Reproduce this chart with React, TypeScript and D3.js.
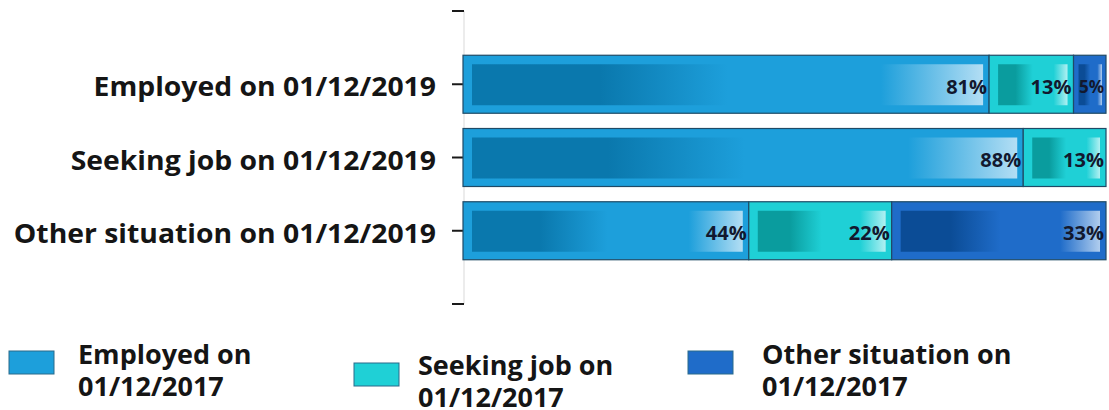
import React from "react";
import * as d3 from "d3";

const categories = [
  "Employed on 01/12/2019",
  "Seeking job on 01/12/2019",
  "Other situation on 01/12/2019",
];
const seriesKeys = ["employed", "seeking", "other"];
const seriesNames = [
  ["Employed on", "01/12/2017"],
  ["Seeking job on", "01/12/2017"],
  ["Other situation on", "01/12/2017"],
];
const employed = [81, 88, 44];
const seeking = [13, 13, 22];
const other = [5, 0, 33];

const baseColors = ["#1d9fdb", "#1fd0d6", "#1f6cc9"];
const darkColors = ["#0a78ad", "#0a9c9e", "#0b4c96"];
const lightColors = ["#b3def4", "#b0f0f2", "#b0cdee"];
const strokeColor = "#1f4a66";

const W = 1109;
const H = 410;
const FONT = "'Open Sans', 'DejaVu Sans', sans-serif";

export default function App() {
  const rows = categories.map((c, i) => ({
    cat: c,
    employed: employed[i],
    seeking: seeking[i],
    other: other[i],
  }));
  const stack = d3
    .stack<any>()
    .keys(seriesKeys)
    .offset(d3.stackOffsetExpand);
  const series = stack(rows);

  const x = d3.scaleLinear().domain([0, 1]).range([463, 1106]);
  const yPos = d3
    .scalePoint<string>()
    .domain(["__top", ...categories, "__bottom"])
    .range([11, 304]);
  const barH = 58;
  const axisX = x(0) + 1;

  const legendItems = [
    { sx: 9, sy: 351, tx: 78, ty: 364 },
    { sx: 354, sy: 363, tx: 418, ty: 375 },
    { sx: 688, sy: 351, tx: 762, ty: 364 },
  ];

  return (
    <svg
      width={W}
      height={H}
      style={{ position: "absolute", left: 0, top: 0, background: "#fff" }}
    >
      <defs>
        {baseColors.map((c, i) => (
          <linearGradient key={i} id={`g${i}`} x1="0" x2="1" y1="0" y2="0">
            <stop offset="0" stopColor={darkColors[i]} />
            <stop offset="0.25" stopColor={darkColors[i]} stopOpacity={1} />
            <stop offset="0.5" stopColor={c} />
            <stop offset="0.8" stopColor={c} />
            <stop offset="1" stopColor={lightColors[i]} />
          </linearGradient>
        ))}
      </defs>

      {/* axis line */}
      <line
        x1={axisX}
        x2={axisX}
        y1={yPos("__top")}
        y2={yPos("__bottom")}
        stroke="#d9d9d9"
        strokeWidth={1}
      />
      {yPos.domain().map((d) => (
        <line
          key={d}
          x1={452}
          x2={axisX}
          y1={yPos(d)}
          y2={yPos(d)}
          stroke="#1a1a1a"
          strokeWidth={2}
        />
      ))}

      {/* category labels */}
      {categories.map((c) => (
        <text
          key={c}
          transform={`translate(436,${(yPos(c) as number) + 2}) scale(1.09,1)`}
          textAnchor="end"
          dominantBaseline="central"
          fontFamily={FONT}
          fontWeight={700}
          fontSize={26}
          fill="#151515"
        >
          {c}
        </text>
      ))}

      {/* bars */}
      {series.map((s, si) =>
        s.map((d, ri) => {
          const x0 = x(d[0]);
          const x1 = x(d[1]);
          const w = x1 - x0;
          if (w <= 0.5) return null;
          const cy = yPos(categories[ri]) as number;
          const y0 = cy - barH / 2;
          const val = [employed, seeking, other][si][ri];
          return (
            <g key={`${si}-${ri}`}>
              <rect
                x={x0}
                y={y0}
                width={w}
                height={barH}
                fill={baseColors[si]}
                stroke={strokeColor}
                strokeWidth={1.2}
              />
              <rect
                x={x0 + (w > 40 ? 9 : 5)}
                y={y0 + 9}
                width={Math.max(0, w - (w > 40 ? 15 : 9))}
                height={barH - 17}
                fill={`url(#g${si})`}
              />
              <text
                x={x1 - 2}
                y={cy + 2}
                textAnchor="end"
                dominantBaseline="central"
                fontFamily={FONT}
                fontWeight={700}
                fontSize={w < 40 ? 17 : 20}
                fill="#12182e"
              >
                {val}%
              </text>
            </g>
          );
        })
      )}

      {/* legend */}
      {legendItems.map((l, i) => (
        <g key={i}>
          <rect
            x={l.sx}
            y={l.sy}
            width={45}
            height={23}
            fill={baseColors[i]}
            stroke="#2a6a8a"
            strokeWidth={1}
          />
          {seriesNames[i].map((t, j) => (
            <text
              key={j}
              x={l.tx}
              y={l.ty + j * 32}
              fontFamily={FONT}
              fontWeight={700}
              fontSize={27}
              fill="#151515"
            >
              {t}
            </text>
          ))}
        </g>
      ))}
    </svg>
  );
}
